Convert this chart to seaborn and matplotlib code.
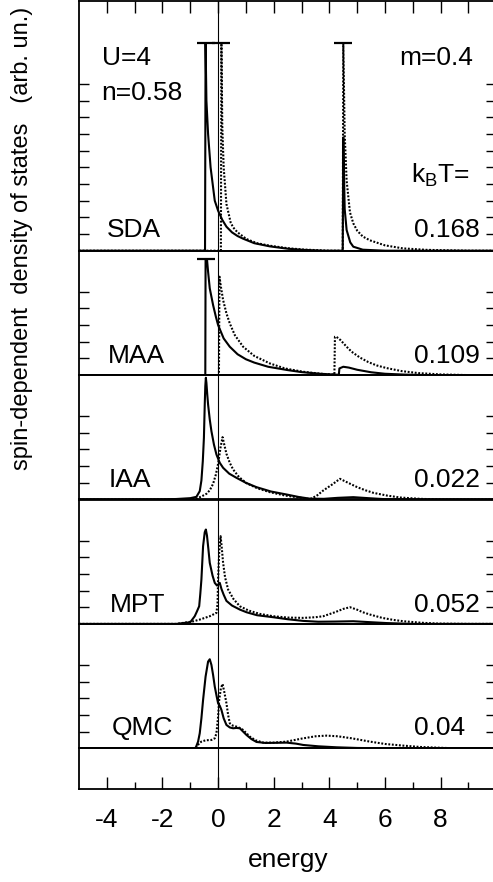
import matplotlib
matplotlib.use("Agg")
import matplotlib.pyplot as plt
from matplotlib.ticker import FixedLocator, NullLocator
import seaborn as sns

# ---------------- data ----------------
panel_names = ["SDA", "MAA", "IAA", "MPT", "QMC"]
temperatures = ["0.168", "0.109", "0.022", "0.052", "0.04"]
xtick_values = [-4, -2, 0, 2, 4, 6, 8]
xtick_labels = ["-4", "-2", "0", "2", "4", "6", "8"]
xminor_values = [-3, -1, 1, 3, 5, 7, 9]

sda_solid_x = [-5, -0.47, -0.45, -0.42, -0.36, -0.27, -0.12, 0.0, 0.15, 0.3, 0.5, 0.7, 0.9, 1.3, 1.86, 2.5, 3.06, 3.8,
               4.48, 4.5, 4.55, 4.62, 4.75, 4.86, 5.2, 6.0, 10]
sda_solid_y = [0, 0, 12.44, 9.0, 7.0, 5.0, 3.0, 2.4, 1.85, 1.44, 1.1, 0.88, 0.72, 0.45, 0.26, 0.12, 0.05, 0.0,
               0.0, 6.8, 2.5, 1.24, 0.5, 0.24, 0.06, 0.0, 0]
sda_dot_x = [-5, 0.10, 0.12, 0.15, 0.2, 0.3, 0.45, 0.54, 0.7, 1.02, 1.4, 1.86, 2.5, 3.06, 4.0,
             4.48, 4.5, 4.55, 4.62, 4.74, 4.86, 5.0, 5.2, 5.46, 6.0, 6.64, 7.5, 9.0, 10]
sda_dot_y = [0, 0, 12.44, 7.5, 5.0, 2.8, 1.7, 1.4, 1.1, 0.7, 0.45, 0.3, 0.15, 0.07, 0.0,
             0.0, 12.44, 7.0, 4.2, 2.3, 1.64, 1.2, 0.85, 0.62, 0.32, 0.14, 0.05, 0.0, 0]
sda_cap_x = [-0.45, 0.12, 4.5]
sda_cap_y = [12.44, 12.44, 12.44]

maa_solid_x = [-5, -0.46, -0.45, -0.40, -0.36, -0.30, -0.18, -0.08, 0.0, 0.1, 0.2, 0.42, 0.7, 1.0, 1.3, 1.8, 2.5,
               3.0, 3.66, 4.2, 4.34, 4.36, 4.5, 4.7, 5.0, 5.5, 6.0, 6.7, 7.5, 10]
maa_solid_y = [0, 0, 6.96, 6.96, 6.2, 5.2, 4.2, 3.5, 3.0, 2.6, 2.2, 1.7, 1.25, 0.95, 0.75, 0.5, 0.3,
               0.18, 0.08, 0.03, 0.02, 0.4, 0.5, 0.45, 0.32, 0.17, 0.08, 0.03, 0.0, 0]
maa_dot_x = [-5, 0.0, 0.03, 0.05, 0.1, 0.18, 0.3, 0.42, 0.6, 0.9, 1.3, 1.86, 2.4, 3.06, 3.7, 4.18,
             4.2, 4.25, 4.4, 4.62, 4.8, 5.1, 5.4, 5.7, 6.06, 6.6, 7.2, 8.0, 9.0, 10]
maa_dot_y = [0, 0, 0.1, 5.9, 5.3, 4.5, 3.7, 3.1, 2.4, 1.7, 1.15, 0.7, 0.4, 0.2, 0.08, 0.03,
             2.3, 2.3, 2.1, 1.7, 1.4, 1.05, 0.78, 0.58, 0.42, 0.24, 0.12, 0.04, 0.0, 0]
maa_cap_x = [-0.42]
maa_cap_y = [6.96]

iaa_solid_x = [-5, -2.0, -1.5, -1.0, -0.78, -0.66, -0.6, -0.55, -0.51, -0.48, -0.46, -0.44, -0.42, -0.39, -0.36,
               -0.3, -0.24, -0.15, -0.06, 0.06, 0.18, 0.4, 0.66, 1.0, 1.38, 1.9, 2.46, 2.9, 3.3, 3.8, 4.3, 4.86,
               5.4, 6.0, 7.0, 10]
iaa_solid_y = [0, 0, 0.03, 0.08, 0.16, 0.5, 1.14, 2.3, 3.7, 5.7, 6.8, 7.3, 7.0, 6.3, 5.7,
               4.8, 4.1, 3.3, 2.7, 2.2, 1.9, 1.55, 1.3, 1.0, 0.74, 0.48, 0.3, 0.15, 0.05, 0.04, 0.1, 0.14,
               0.08, 0.02, 0.0, 0]
iaa_dot_x = [-5, -1.0, -0.78, -0.6, -0.42, -0.3, -0.18, -0.08, 0.0, 0.09, 0.16, 0.22, 0.3, 0.42, 0.54, 0.75,
             1.02, 1.4, 1.86, 2.4, 3.06, 3.3, 3.54, 3.78, 4.1, 4.38, 4.7, 5.0, 5.3, 5.58, 6.06, 6.54, 7.26, 8.0, 10]
iaa_dot_y = [0, 0, 0.05, 0.18, 0.34, 0.55, 0.94, 1.5, 2.14, 3.14, 3.74, 3.3, 2.74, 2.2, 1.8, 1.35,
             0.98, 0.68, 0.44, 0.24, 0.08, 0.02, 0.22, 0.54, 0.9, 1.24, 0.98, 0.74, 0.55, 0.4, 0.24, 0.12, 0.04, 0.0, 0]

mpt_solid_x = [-5, -1.5, -1.0, -0.84, -0.76, -0.68, -0.64, -0.6, -0.54, -0.48, -0.44, -0.40, -0.35, -0.3, -0.2,
               -0.12, -0.04, 0.0, 0.06, 0.12, 0.2, 0.3, 0.5, 0.78, 1.02, 1.4, 1.98, 2.5, 3.06, 3.6, 4.2, 4.86,
               5.5, 6.06, 7.0, 10]
mpt_solid_y = [0, 0, 0.1, 0.46, 0.75, 1.06, 1.8, 2.66, 4.66, 5.5, 5.66, 5.3, 4.5, 3.66, 2.9,
               2.46, 2.3, 2.35, 2.46, 2.1, 1.75, 1.38, 1.1, 0.86, 0.7, 0.52, 0.4, 0.28, 0.18, 0.13, 0.14, 0.16,
               0.1, 0.05, 0.0, 0]
mpt_dot_x = [-5, -1.5, -0.9, -0.66, -0.3, -0.06, -0.02, 0.0, 0.04, 0.09, 0.13, 0.18, 0.25, 0.36, 0.55, 0.78,
             1.1, 1.5, 1.98, 2.5, 3.06, 3.5, 3.78, 4.2, 4.5, 4.74, 5.0, 5.2, 5.46, 5.9, 6.3, 6.66, 7.3, 7.9, 9.0, 10]
mpt_dot_y = [0, 0, 0.15, 0.26, 0.46, 0.66, 1.2, 2.7, 4.3, 5.26, 4.6, 3.66, 2.8, 2.06, 1.5, 1.06,
             0.8, 0.6, 0.46, 0.38, 0.36, 0.4, 0.46, 0.7, 0.9, 1.0, 0.85, 0.7, 0.56, 0.36, 0.24, 0.16, 0.07, 0.02, 0.0, 0]

qmc_solid_x = [-5, -0.85, -0.8, -0.72, -0.66, -0.6, -0.54, -0.45, -0.36, -0.3, -0.24, -0.18, -0.12, -0.05, 0.0,
               0.06, 0.12, 0.2, 0.3, 0.42, 0.54, 0.66, 0.78, 0.9, 1.02, 1.2, 1.38, 1.7, 2.1, 2.46, 2.8, 3.06,
               3.6, 4.26, 5.0, 6.0, 10]
qmc_solid_y = [0, 0, 0.05, 0.4, 0.9, 1.8, 2.9, 4.3, 5.2, 5.34, 5.0, 4.4, 3.7, 3.1, 2.7,
               2.55, 2.3, 1.8, 1.4, 1.25, 1.2, 1.22, 1.2, 1.0, 0.8, 0.55, 0.38, 0.32, 0.33, 0.34, 0.28, 0.2,
               0.12, 0.06, 0.02, 0.0, 0]
qmc_dot_x = [-5, -0.85, -0.78, -0.68, -0.6, -0.45, -0.24, -0.12, -0.06, 0.0, 0.04, 0.1, 0.16, 0.22, 0.3, 0.36,
             0.42, 0.54, 0.66, 0.78, 0.9, 1.02, 1.14, 1.35, 1.62, 2.0, 2.46, 3.0, 3.5, 3.9, 4.3, 4.8, 5.46, 6.0,
             6.66, 7.26, 7.86, 8.5, 10]
qmc_dot_y = [0, 0, 0.05, 0.3, 0.4, 0.48, 0.5, 0.6, 0.9, 1.9, 2.9, 3.6, 3.86, 3.4, 2.7, 2.0,
             1.5, 1.35, 1.3, 1.22, 1.1, 0.9, 0.7, 0.48, 0.34, 0.34, 0.4, 0.58, 0.72, 0.76, 0.72, 0.6, 0.4, 0.26,
             0.16, 0.08, 0.04, 0.0, 0]

# ---------------- style ----------------
sns.set_style("ticks")
plt.rcParams["font.family"] = ["Liberation Sans", "DejaVu Sans"]
plt.rcParams["mathtext.fontset"] = "custom"
plt.rcParams["mathtext.rm"] = "Liberation Sans"
plt.rcParams["mathtext.it"] = "Liberation Sans"
plt.rcParams["axes.unicode_minus"] = False
plt.rcParams["axes.edgecolor"] = "black"
plt.rcParams["xtick.color"] = "black"
plt.rcParams["ytick.color"] = "black"
plt.rcParams["text.color"] = "black"

W, H = 493, 882
fig = plt.figure(figsize=(W / 100, H / 100), dpi=100)
fig.patch.set_facecolor("white")

X0, X1 = 79.0, 496.3
def fx(px):
    return px / W
def fy(py):
    return 1 - py / H

FS = 19
bounds = [(1.0, 250.7), (250.7, 375.1), (375.1, 499.5), (499.5, 623.9), (623.9, 748.3)]
ylims = [14.98, 7.46, 7.46, 7.46, 7.46]
nticks = [10, 5, 5, 5, 5]
curves = [
    (sda_solid_x, sda_solid_y, sda_dot_x, sda_dot_y),
    (maa_solid_x, maa_solid_y, maa_dot_x, maa_dot_y),
    (iaa_solid_x, iaa_solid_y, iaa_dot_x, iaa_dot_y),
    (mpt_solid_x, mpt_solid_y, mpt_dot_x, mpt_dot_y),
    (qmc_solid_x, qmc_solid_y, qmc_dot_x, qmc_dot_y),
]
caps = [(sda_cap_x, sda_cap_y), (maa_cap_x, maa_cap_y), None, None, None]

SPINE_LW = 1.3
axes = []
for i, (top, bot) in enumerate(bounds):
    ax = fig.add_axes([fx(X0), fy(bot), fx(X1) - fx(X0), (bot - top) / H])
    ax.set_facecolor("none")
    sx, sy, dx, dy = curves[i]
    sns.lineplot(x=dx, y=dy, ax=ax, color="black", lw=1.5, linestyle=(0, (0.9, 0.8)),
                 sort=False, estimator=None)
    sns.lineplot(x=sx, y=sy, ax=ax, color="black", lw=1.5, sort=False, estimator=None)
    if caps[i] is not None:
        cx, cy = caps[i]
        ax.plot(cx, cy, linestyle="none", marker="_", markersize=12.5, mew=1.6, color="black")
    ax.axvline(0, color="black", lw=0.8)
    ax.set_xlim(-5, 10)
    ax.set_ylim(0, ylims[i])
    ax.yaxis.set_major_locator(FixedLocator(list(range(1, nticks[i] + 1))))
    ax.yaxis.set_minor_locator(NullLocator())
    ax.set_yticklabels([])
    ax.tick_params(axis="y", which="both", direction="in", left=True, right=True,
                   length=7.2, width=1.0, labelleft=False)
    if i == 0:
        ax.xaxis.set_major_locator(FixedLocator(list(range(-4, 10))))
        ax.xaxis.set_minor_locator(NullLocator())
        ax.tick_params(axis="x", which="both", direction="in", top=True, bottom=False,
                       labelbottom=False, length=8.6, width=1.0)
    else:
        ax.xaxis.set_major_locator(NullLocator())
        ax.xaxis.set_minor_locator(NullLocator())
        ax.tick_params(axis="x", which="both", top=False, bottom=False, labelbottom=False)
    for s in ax.spines.values():
        s.set_linewidth(SPINE_LW)
        s.set_visible(True)
    ax.set_xlabel("")
    ax.set_ylabel("")
    axes.append(ax)

# bottom empty strip with the energy axis
axb = fig.add_axes([fx(X0), fy(789.0), fx(X1) - fx(X0), (789.0 - 748.3) / H])
axb.set_facecolor("none")
axb.axvline(0, color="black", lw=0.8)
axb.set_xlim(-5, 10)
axb.set_ylim(0, 1)
axb.set_yticks([])
axb.xaxis.set_major_locator(FixedLocator(xtick_values))
axb.set_xticklabels(xtick_labels, fontsize=FS)
axb.xaxis.set_minor_locator(FixedLocator(xminor_values))
axb.tick_params(axis="x", which="major", direction="in", length=8.6, width=1.0, pad=14, top=False)
axb.tick_params(axis="x", which="minor", direction="in", length=4.8, width=1.0, top=False)
for s in axb.spines.values():
    s.set_linewidth(SPINE_LW)
fig.text(fx(287.7), fy(866.7), "energy", fontsize=FS, ha="center", va="baseline")

# y label
fig.text(fx(22.5), fy(238), "spin-dependent  density of states   (arb. un.)", fontsize=17,
         rotation=90, ha="center", va="center")

# annotations
fig.text(fx(101.7), fy(65), "U=4", fontsize=FS, ha="left", va="baseline")
fig.text(fx(101.7), fy(100), "n=0.58", fontsize=FS, ha="left", va="baseline")
fig.text(fx(473), fy(65), "m=0.4", fontsize=FS, ha="right", va="baseline")
fig.text(fx(470), fy(183), r"k$_\mathrm{B}$T=", fontsize=FS, ha="right", va="baseline")

name_pos = [(106.7, 236.7), (108.3, 363.3), (108.3, 486.7), (110, 611.7), (111.7, 735)]
temp_pos = [(480, 236.7), (480, 363.3), (480, 486.7), (480, 611.7), (465, 735)]
for name, t, (nx, ny), (tx, ty) in zip(panel_names, temperatures, name_pos, temp_pos):
    fig.text(fx(nx), fy(ny), name, fontsize=FS, ha="left", va="baseline")
    fig.text(fx(tx), fy(ty), t, fontsize=FS, ha="right", va="baseline")

fig.savefig("out.png", dpi=100, facecolor="white")
